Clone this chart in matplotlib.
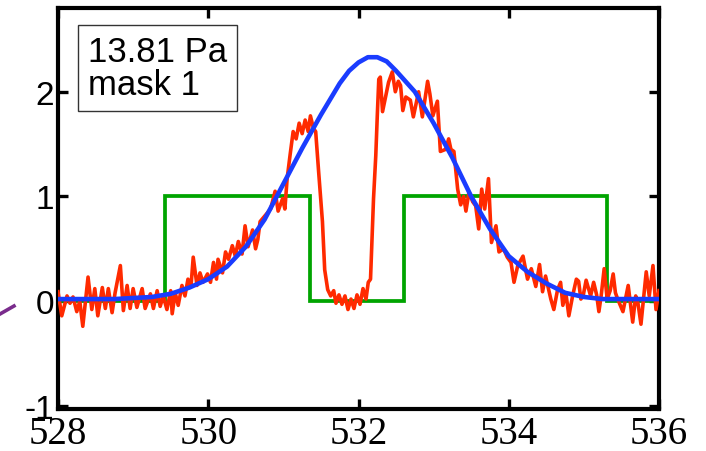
import matplotlib
matplotlib.use("Agg")
import matplotlib.pyplot as plt
from matplotlib.lines import Line2D

# ---- data ----
red_x = [528.00, 528.05, 528.12, 528.16, 528.20, 528.25, 528.29, 528.33, 528.40, 528.45,
         528.49, 528.53, 528.59, 528.63, 528.67, 528.72, 528.76, 528.83, 528.87, 528.92,
         528.96, 529.00, 529.05, 529.12, 529.16, 529.23, 529.27, 529.32, 529.36, 529.40,
         529.45, 529.50, 529.52, 529.56, 529.60, 529.65, 529.69, 529.73, 529.77, 529.80,
         529.85, 529.89, 529.93, 529.99, 530.03, 530.07, 530.11, 530.13, 530.19, 530.23,
         530.27, 530.32, 530.36, 530.40, 530.45, 530.49, 530.53, 530.59, 530.63, 530.66,
         530.69, 530.76, 530.83, 530.89, 530.93, 530.99, 531.02, 531.05, 531.09, 531.13,
         531.17, 531.21, 531.25, 531.29, 531.33, 531.36, 531.40, 531.43, 531.47, 531.52,
         531.55, 531.59, 531.63, 531.67, 531.70, 531.74, 531.78, 531.82, 531.86, 531.90,
         531.94, 531.98, 532.02, 532.06, 532.10, 532.13, 532.16, 532.20, 532.23, 532.25,
         532.27, 532.29, 532.32, 532.36, 532.40, 532.45, 532.49, 532.53, 532.56, 532.59,
         532.63, 532.69, 532.73, 532.80, 532.85, 532.92, 532.95, 532.99, 533.05, 533.09,
         533.16, 533.20, 533.23, 533.27, 533.32, 533.36, 533.40, 533.43, 533.47, 533.52,
         533.56, 533.60, 533.64, 533.68, 533.73, 533.77, 533.83, 533.87, 533.93, 533.98,
         534.03, 534.07, 534.12, 534.19, 534.25, 534.30, 534.36, 534.41, 534.45, 534.49,
         534.56, 534.60, 534.65, 534.69, 534.72, 534.76, 534.80, 534.85, 534.90, 534.93,
         534.96, 534.99, 535.03, 535.09, 535.13, 535.17, 535.20, 535.23, 535.27, 535.31,
         535.35, 535.39, 535.42, 535.45, 535.52, 535.59, 535.65, 535.69, 535.72, 535.76,
         535.83, 535.87, 535.92, 535.96, 536.00]
red_y = [0.09, -0.14, 0.05, -0.02, 0.04, -0.10, 0.00, -0.24, 0.23, -0.08,
         0.12, -0.14, 0.13, -0.07, 0.12, -0.11, 0.08, 0.34, -0.09, 0.15,
         -0.07, 0.12, -0.06, 0.12, -0.07, 0.07, -0.07, 0.10, -0.05, 0.05,
         -0.08, 0.10, -0.12, 0.08, -0.04, 0.15, 0.05, 0.21, 0.14, 0.42,
         0.15, 0.27, 0.18, 0.26, 0.18, 0.37, 0.21, 0.40, 0.27, 0.47,
         0.40, 0.53, 0.43, 0.57, 0.45, 0.72, 0.52, 0.68, 0.50, 0.59,
         0.76, 0.82, 0.88, 1.05, 0.86, 0.98, 0.88, 1.17, 1.40, 1.62,
         1.55, 1.70, 1.60, 1.73, 1.62, 1.77, 1.65, 1.62, 1.23, 0.76,
         0.30, 0.11, 0.05, 0.10, -0.02, 0.06, -0.03, 0.05, -0.08, 0.02,
         -0.07, 0.06, -0.03, 0.12, 0.02, 0.18, 0.21, 0.98, 1.39, 1.77,
         2.12, 2.14, 1.81, 1.95, 2.09, 2.19, 2.00, 2.10, 2.06, 1.82,
         1.95, 1.92, 1.76, 2.00, 1.76, 2.10, 1.98, 1.77, 1.91, 1.43,
         1.45, 1.55, 1.45, 1.43, 1.07, 0.92, 1.00, 0.86, 1.04, 0.95,
         0.91, 0.69, 1.07, 0.88, 1.17, 0.56, 0.72, 0.47, 0.50, 0.42,
         0.37, 0.18, 0.34, 0.43, 0.21, 0.31, 0.14, 0.35, 0.09, 0.24,
         0.02, -0.08, 0.11, 0.18, -0.04, 0.08, -0.14, 0.05, 0.21, 0.19,
         0.02, 0.05, 0.20, 0.05, 0.18, 0.06, -0.10, 0.05, 0.31, 0.02,
         0.10, 0.26, 0.08, 0.02, -0.10, 0.15, -0.20, 0.05, -0.02, -0.22,
         0.28, 0.05, 0.34, -0.08, 0.10]

blue_x = [528.00, 528.25, 528.50, 528.75, 529.00, 529.25, 529.50, 529.75, 530.00, 530.25,
          530.50, 530.75, 531.00, 531.25, 531.50, 531.75, 531.875, 532.00, 532.125, 532.25,
          532.375, 532.50, 532.75, 533.00, 533.25, 533.50, 533.75, 534.00, 534.25, 534.50,
          534.75, 535.00, 535.25, 535.50, 535.75, 536.00]
blue_y = [0.02, 0.02, 0.02, 0.02, 0.03, 0.04, 0.07, 0.13, 0.21, 0.33,
          0.52, 0.78, 1.12, 1.46, 1.78, 2.08, 2.20, 2.28, 2.33, 2.33,
          2.29, 2.20, 2.00, 1.70, 1.37, 1.00, 0.69, 0.43, 0.28, 0.17,
          0.08, 0.04, 0.02, 0.02, 0.02, 0.02]

mask_edges = [528.0, 529.42, 531.36, 532.60, 535.31, 536.0]
mask_vals = [0, 1, 0, 1, 0]

x_ticks = [528, 530, 532, 534, 536]
y_ticks = [-1, 0, 1, 2]
label_text = "13.81 Pa\nmask 1"

# ---- figure ----
fig = plt.figure(figsize=(7.06, 4.52), dpi=100)
ax = fig.add_axes([58 / 706, 1 - 410 / 452, 601 / 706, 401 / 452])

ax.stairs(mask_vals, mask_edges, color="#00A400", lw=2.7, baseline=None, zorder=2)
ax.plot(red_x, red_y, color="#FF2A00", lw=2.6, zorder=3)
ax.plot(blue_x, blue_y, color="#1A3CFF", lw=3.3, zorder=4)

ax.set_xlim(528, 536)
ax.set_ylim(-1.03, 2.80)
ax.set_xticks(x_ticks)
ax.set_yticks(y_ticks)
ax.set_xticklabels([str(t) for t in x_ticks])
ax.set_yticklabels([str(t) for t in y_ticks])
ax.tick_params(direction="in", length=7, width=2.4, top=True, right=True)
ax.xaxis.set_tick_params(pad=4, labelsize=28, labelfontfamily="Liberation Serif")
ax.yaxis.set_tick_params(pad=3, labelsize=24, labelfontfamily="Liberation Sans")
for s in ax.spines.values():
    s.set_linewidth(3.0)

ax.text(0.050, 0.933, label_text, transform=ax.transAxes, ha="left", va="top",
        family="Liberation Sans", fontsize=25, linespacing=1.02,
        bbox=dict(boxstyle="square,pad=0.28", fc="white", ec="#333333", lw=1.0), zorder=5)

# small purple stroke at the left edge
fig.add_artist(Line2D([0 / 706, 14 / 706], [1 - 315 / 452, 1 - 307 / 452],
                      color="#7A2C8C", lw=2.6, transform=fig.transFigure))

fig.savefig("out.png", dpi=100)
